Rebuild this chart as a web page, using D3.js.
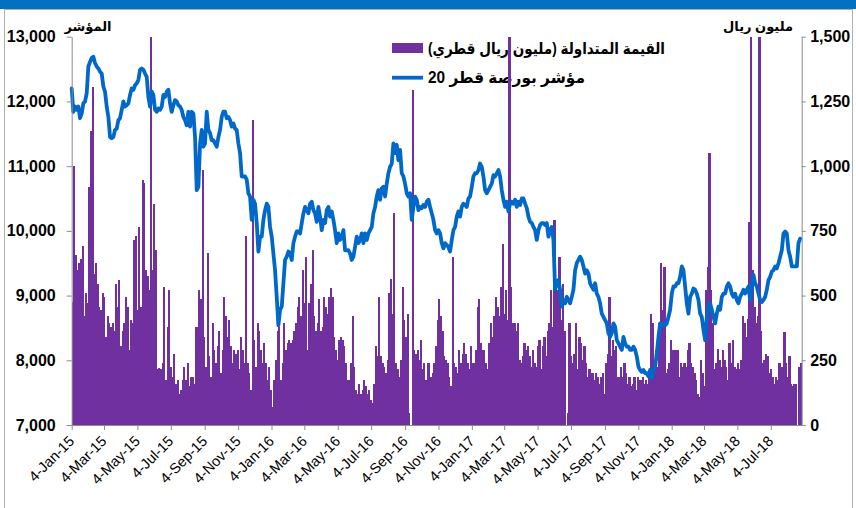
<!DOCTYPE html>
<html>
<head>
<meta charset="utf-8">
<script src="https://cdn.jsdelivr.net/npm/d3@7"></script>
<style>
  body { margin: 0; background: #fff; }
  svg text { font-family: Arial, "Liberation Sans", "DejaVu Sans", sans-serif; }
</style>
</head>
<body>
<svg id="chart" width="856" height="508"></svg>
<script>
// --- data (one sample every ~3 calendar days) ---
const startDate = new Date(2015, 0, 4);
const endDate = new Date(2018, 7, 29, 12);
const stepDays = 3.045;

// QE 20 index
const indexValues = [
  12200, 11840, 11920, 11870, 11920, 11740, 11815, 11970, 12000, 12125,
  12540, 12610, 12670, 12690, 12590, 12540, 12510, 12460, 12430, 12230,
  12150, 11920, 11760, 11450, 11430, 11450, 11560, 11580, 11710, 11740,
  11870, 12000, 11920, 11940, 11970, 12100, 12200, 12180, 12250, 12280,
  12330, 12490, 12510, 12490, 12430, 12380, 12070, 11920, 12150, 12100,
  11870, 11840, 11890, 11870, 11920, 12100, 12070, 12150, 12180, 11970,
  11840, 11940, 12020, 12000, 11940, 11920, 11870, 11760, 11710, 11630,
  11840, 11610, 11840, 11810,
  11450, 10630, 10680, 11350, 11560, 11300, 11350, 11840, 11560, 11510,
  11400, 11400, 11350, 11300, 11450, 11560, 11760, 11840, 11840, 11740,
  11760, 11710, 11610, 11660, 11580, 11560, 11350, 11200, 10840, 10840,
  10840, 10790, 10580, 10530, 10170, 10480, 10420, 10120, 9680, 9910,
  9910, 10170, 10320, 10420, 10370, 10060, 9910, 9650, 9390, 8980,
  8540, 8780, 8830, 9190, 9550, 9600, 9680, 9650, 9550, 9810,
  9910, 9990, 9990, 9960, 10120, 10270, 10370, 10320, 10270, 10420,
  10450, 10320,
  10270, 10140, 10370, 10220, 10010, 10170, 10120, 10320, 10370, 10220,
  10300, 10170, 10010, 9810, 9960, 9860, 9910, 10010, 9700, 9700,
  9700, 9650, 9550, 9600, 9755, 9910, 9810, 9860, 9960, 9810,
  9960, 9860, 9960, 10010, 10060, 10270, 10370, 10530, 10630, 10480,
  10660, 10680, 10530, 10730, 10890, 10990, 11040, 11350, 11200, 11330,
  11090, 11250, 10890, 10840, 10730, 10580, 10530, 10580, 10170, 10370,
  10530, 10480, 10320, 10370, 10350, 10400, 10370, 10450, 10480, 10370,
  10270, 10170,
  10010, 9960, 10010, 9960, 9810, 9730, 9810, 9780, 9750, 9680,
  9860, 10010, 10060, 10220, 10300, 10220, 10370, 10420, 10400, 10370,
  10500, 10530, 10680, 10840, 10890, 10890, 10940, 11040, 10990, 10840,
  10630, 10580, 10630, 10680, 10730, 10860, 10840, 10890, 10940, 10840,
  10630, 10480, 10370, 10450, 10300, 10420, 10450, 10420, 10480, 10370,
  10450, 10400, 10500, 10500, 10420, 10350, 10220, 10140, 10120, 10060,
  10010, 9860, 10010, 10090, 10120, 10120, 10090, 10120, 9910, 10010,
  10060, 9860,
  9090, 9190, 9240, 9090, 8830, 8930, 8880, 8980, 8930, 8880,
  8980, 9090, 9390, 9500, 9550, 9600, 9550, 9450, 9340, 9390,
  9340, 9190, 9140, 9090, 9190, 9030, 8980, 8880, 8720, 8670,
  8620, 8570, 8420, 8360, 8420, 8570, 8520, 8310, 8260, 8210,
  8160, 8360, 8260, 8210, 8210, 8160, 8160, 8210, 8160, 8060,
  7900, 7850, 7820, 7850, 7800, 7800, 7750, 7850, 7720, 7850,
  7900, 8110, 8360, 8570, 8520, 8570, 8540, 8570, 8670, 8780,
  9030, 9140,
  9140, 9190, 9190, 9290, 9450, 9390, 9140, 8880, 8720, 8980,
  9030, 9110, 9090, 9030, 8930, 8720, 8670, 8470, 8310, 8670,
  8830, 8880, 8780, 8670, 8570, 8720, 8830, 8780, 8980, 9030,
  9030, 9140, 9190, 9140, 9030, 8980, 9030, 8930, 8880, 8980,
  9030, 9090, 9030, 9090, 9140, 8930, 9140, 9320, 9190, 9140,
  9030, 8930, 8900, 8930, 8980, 9090, 9240, 9290, 9370, 9390,
  9450, 9420, 9500, 9600, 9700, 9960, 9990, 9960, 9700, 9600,
  9450, 9450, 9450, 9450, 9810, 9880
];

// traded value, million QAR
const tradedValues = [
  475, 1000, 655, 600, 625, 640, 690, 420, 510, 470,
  920, 1135, 1305, 585, 625, 545, 455, 445, 510, 495,
  340, 420, 395, 380, 395, 365, 545, 455, 560, 305,
  365, 395, 495, 455, 290, 405, 395, 715, 730, 445,
  765, 455, 945, 935, 600, 575, 520, 1500, 600, 855,
  675, 215, 220, 215, 240, 535, 175, 380, 520, 225,
  185, 275, 160, 175, 120, 135, 175, 225, 175, 240,
  150, 185, 185, 160,
  380, 380, 520, 485, 985, 340, 225, 665, 265, 185,
  395, 290, 240, 305, 365, 200, 290, 495, 420, 340,
  405, 305, 240, 290, 275, 290, 215, 340, 290, 240,
  730, 240, 200, 135, 1180, 330, 225, 395, 365, 290,
  240, 315, 240, 175, 225, 135, 70, 175, 250, 365,
  380, 175, 240, 395, 290, 315, 330, 315, 330, 365,
  395, 455, 495, 420, 600, 470, 650, 290, 470, 545,
  675, 420,
  365, 395, 485, 365, 380, 495, 455, 430, 495, 530,
  495, 340, 290, 250, 330, 340, 330, 305, 240, 175,
  175, 240, 420, 225, 135, 120, 160, 120, 135, 175,
  150, 120, 135, 95, 85, 160, 305, 265, 495, 265,
  240, 225, 200, 250, 510, 565, 430, 820, 240, 215,
  185, 250, 535, 405, 340, 430, 45, 0, 1295, 290,
  275, 290, 250, 330, 215, 240, 175, 240, 240, 185,
  200, 240,
  305, 405, 485, 420, 365, 265, 250, 240, 185, 150,
  650, 240, 225, 200, 290, 240, 275, 315, 275, 240,
  215, 305, 240, 240, 290, 455, 485, 315, 290, 290,
  240, 215, 315, 395, 340, 420, 495, 455, 420, 535,
  700, 430, 520, 405, 1500, 535, 395, 395, 365, 395,
  250, 240, 265, 315, 290, 305, 265, 225, 290, 240,
  225, 305, 330, 215, 305, 340, 265, 365, 395, 520,
  380, 790,
  520, 520, 650, 405, 545, 365, 0, 45, 395, 265,
  240, 275, 395, 215, 340, 315, 250, 305, 240, 185,
  215, 200, 200, 175, 200, 185, 160, 185, 200, 120,
  240, 275, 495, 265, 330, 290, 305, 185, 185, 225,
  185, 240, 200, 160, 185, 150, 160, 185, 135, 185,
  175, 175, 185, 160, 175, 160, 200, 430, 395, 225,
  290, 225, 395, 625, 445, 610, 200, 215, 240, 330,
  290, 290,
  290, 290, 185, 240, 225, 240, 225, 290, 315, 240,
  225, 200, 175, 120, 110, 250, 200, 150, 520, 610,
  1050, 520, 395, 215, 240, 295, 250, 225, 290, 250,
  225, 175, 315, 240, 330, 225, 215, 240, 215, 250,
  420, 395, 340, 410, 785, 1500, 600, 455, 395, 420,
  1500, 365, 240, 250, 275, 265, 200, 215, 185, 160,
  185, 175, 240, 225, 225, 360, 240, 185, 265, 160,
  150, 160, 160, 0, 225, 240
];

const tickLabels = [
  "4-Jan-15", "4-Mar-15", "4-May-15", "4-Jul-15", "4-Sep-15", "4-Nov-15",
  "4-Jan-16", "4-Mar-16", "4-May-16", "4-Jul-16", "4-Sep-16", "4-Nov-16",
  "4-Jan-17", "4-Mar-17", "4-May-17", "4-Jul-17", "4-Sep-17", "4-Nov-17",
  "4-Jan-18", "4-Mar-18", "4-May-18", "4-Jul-18"
];
const indexTicks = [7000, 8000, 9000, 10000, 11000, 12000, 13000];
const valueTicks = [0, 250, 500, 750, 1000, 1250, 1500];

const legendBars = "القيمة المتداولة (مليون ريال قطري)";
const legendLine = "مؤشر بورصة قطر 20";
const leftTitle = "المؤشر";
const rightTitle = "مليون ريال";

// --- layout ---
const plot = { left: 71.7, right: 801.7, top: 36.7, bottom: 425 };
const purple = "#7030A0";
const blue = "#0068C9";
const axisGrey = "#8c8c8c";

const svg = d3.select("#chart");

// header band and frame
svg.append("rect").attr("x", 0).attr("y", 0).attr("width", 856).attr("height", 9).attr("fill", "#0070C0");
svg.append("rect").attr("x", 4.5).attr("y", 9.5).attr("width", 848).attr("height", 520)
  .attr("fill", "none").attr("stroke", "#b0b0b0");

// scales
const parseTick = d3.timeParse("%d-%b-%y");
const tickDates = tickLabels.map(parseTick);

const x = d3.scaleTime().domain([startDate, endDate]).range([plot.left, plot.right]);
const yIdx = d3.scaleLinear().domain([7000, 13000]).range([plot.bottom, plot.top]);
const yVal = d3.scaleLinear().domain([0, 1500]).range([plot.bottom, plot.top]);

const DAY = 864e5;
const sampleDate = i => new Date(startDate.getTime() + i * stepDays * DAY);
const barDates = tradedValues.map((_, i) => sampleDate(i));
const idxDates = indexValues.map((_, i) => sampleDate(i));
const barW = x(sampleDate(1)) - x(sampleDate(0));

// legend (sits under the bars, like the original)
const legend = svg.append("g");
legend.append("rect").attr("x", 392).attr("y", 43).attr("width", 31).attr("height", 10).attr("fill", purple);
legend.append("line").attr("x1", 392).attr("x2", 423).attr("y1", 77.7).attr("y2", 77.7)
  .attr("stroke", blue).attr("stroke-width", 3.8);
legend.append("text").attr("x", 428).attr("y", 54)
  .attr("direction", "rtl").attr("text-anchor", "end")
  .attr("font-size", 16).attr("font-weight", "bold")
  .attr("textLength", 237).attr("lengthAdjust", "spacingAndGlyphs")
  .text(legendBars);
legend.append("text").attr("x", 428).attr("y", 83)
  .attr("direction", "rtl").attr("text-anchor", "end")
  .attr("font-size", 16).attr("font-weight", "bold")
  .attr("textLength", 157).attr("lengthAdjust", "spacingAndGlyphs")
  .text(legendLine);

// bars
svg.append("g")
  .attr("shape-rendering", "crispEdges")
  .selectAll("rect")
  .data(tradedValues)
  .enter().append("rect")
  .attr("x", (d, i) => x(barDates[i]))
  .attr("y", d => yVal(Math.min(d, 1500)))
  .attr("width", barW + 0.4)
  .attr("height", d => plot.bottom - yVal(Math.min(d, 1500)))
  .attr("fill", purple);

// index line
const line = d3.line()
  .x((d, i) => x(idxDates[i]))
  .y(d => yIdx(d));

svg.append("path")
  .datum(indexValues)
  .attr("d", line)
  .attr("fill", "none")
  .attr("stroke", blue)
  .attr("stroke-width", 3.8)
  .attr("stroke-linejoin", "round")
  .attr("stroke-linecap", "round");

// axes
function styleAxis(g) {
  g.select(".domain").attr("stroke", axisGrey);
  g.selectAll(".tick line").attr("stroke", axisGrey);
  g.selectAll(".tick text").attr("fill", "#000");
}

svg.append("g")
  .attr("transform", `translate(${plot.left},0)`)
  .call(d3.axisLeft(yIdx).tickValues(indexTicks).tickFormat(d3.format(",")).tickSize(5).tickSizeOuter(0))
  .call(styleAxis)
  .call(g => g.selectAll(".tick text").attr("x", -16).attr("font-size", 16).attr("font-weight", "bold"));

svg.append("g")
  .attr("transform", `translate(${plot.right},0)`)
  .call(d3.axisRight(yVal).tickValues(valueTicks).tickFormat(d3.format(",")).tickSize(4).tickSizeOuter(0))
  .call(styleAxis)
  .call(g => g.selectAll(".tick text").attr("x", 8.5).attr("font-size", 16).attr("font-weight", "bold"));

svg.append("g")
  .attr("transform", `translate(0,${plot.bottom})`)
  .call(d3.axisBottom(x).tickValues(tickDates).tickFormat((d, i) => tickLabels[i]).tickSize(5).tickSizeOuter(0))
  .call(styleAxis)
  .call(g => g.selectAll(".tick text")
    .attr("x", 0).attr("y", 0).attr("dy", 0)
    .attr("font-size", 14.5)
    .attr("text-anchor", "end")
    .attr("transform", "translate(3,17) rotate(-45)"));

// axis titles
svg.append("text").attr("x", 88).attr("y", 31).attr("text-anchor", "middle")
  .attr("font-size", 13).attr("font-weight", "bold").text(leftTitle);
svg.append("text").attr("x", 758).attr("y", 31).attr("text-anchor", "middle")
  .attr("font-size", 13).attr("font-weight", "bold").text(rightTitle);
</script>
</body>
</html>
